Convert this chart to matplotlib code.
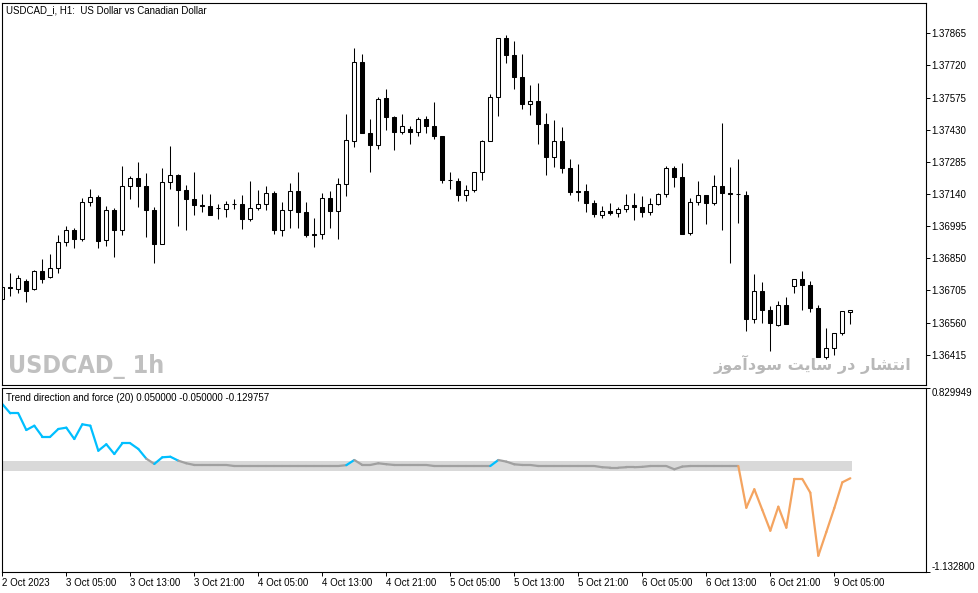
import matplotlib
matplotlib.use("Agg")
import matplotlib.pyplot as plt
from matplotlib.collections import LineCollection
import numpy as np

plt.rcParams['font.family'] = ['Liberation Sans', 'DejaVu Sans']

# ── Data (USDCAD_i H1, bars) ─────────────────────────────────────────
opens = [1.36666, 1.36720, 1.36711, 1.36747, 1.36711, 1.36792, 1.36765, 1.36806, 1.36923, 1.36977,
         1.36937, 1.37104, 1.37126, 1.36932, 1.37068, 1.36977, 1.37176, 1.37212, 1.37176, 1.37068,
         1.36914, 1.37194, 1.37226, 1.37158, 1.37117, 1.37090, 1.37086, 1.37077, 1.37072, 1.37095,
         1.37095, 1.37027, 1.37077, 1.37095, 1.37144, 1.36977, 1.37068, 1.37153, 1.37059, 1.36959,
         1.36959, 1.37122, 1.37063, 1.37185, 1.37379, 1.37736, 1.37415, 1.37361, 1.37573, 1.37487,
         1.37420, 1.37433, 1.37420, 1.37478, 1.37447, 1.37402, 1.37203, 1.37198, 1.37135, 1.37158,
         1.37239, 1.37379, 1.37578, 1.37844, 1.37767, 1.37668, 1.37546, 1.37560, 1.37456, 1.37307,
         1.37379, 1.37257, 1.37153, 1.37153, 1.37099, 1.37045, 1.37063, 1.37054, 1.37072, 1.37090,
         1.37081, 1.37059, 1.37095, 1.37140, 1.37257, 1.37217, 1.36964, 1.37104, 1.37135, 1.37099,
         1.37176, 1.37144, 1.37140, 1.37135, 1.36576, 1.36702, 1.36616, 1.36549, 1.36639, 1.36725,
         1.36756, 1.36729, 1.36625, 1.36404, 1.36445, 1.36513, 1.36607]
highs = [1.36720, 1.36783, 1.36774, 1.36756, 1.36797, 1.36846, 1.36869, 1.36955, 1.36995, 1.36986,
         1.37122, 1.37162, 1.37135, 1.37086, 1.37077, 1.37266, 1.37221, 1.37284, 1.37235, 1.37081,
         1.37257, 1.37356, 1.37230, 1.37180, 1.37239, 1.37140, 1.37140, 1.37095, 1.37108, 1.37117,
         1.37135, 1.37198, 1.37158, 1.37176, 1.37153, 1.37104, 1.37189, 1.37239, 1.37104, 1.37032,
         1.37144, 1.37153, 1.37212, 1.37501, 1.37799, 1.37772, 1.37478, 1.37578, 1.37614, 1.37492,
         1.37501, 1.37447, 1.37487, 1.37492, 1.37555, 1.37402, 1.37239, 1.37212, 1.37180, 1.37239,
         1.37384, 1.37591, 1.37844, 1.37857, 1.37830, 1.37772, 1.37632, 1.37641, 1.37505, 1.37474,
         1.37442, 1.37298, 1.37275, 1.37185, 1.37113, 1.37086, 1.37099, 1.37081, 1.37140, 1.37144,
         1.37131, 1.37122, 1.37144, 1.37266, 1.37266, 1.37280, 1.37122, 1.37198, 1.37135, 1.37226,
         1.37460, 1.37262, 1.37298, 1.37153, 1.36779, 1.36743, 1.36634, 1.36657, 1.36675, 1.36756,
         1.36792, 1.36747, 1.36639, 1.36535, 1.36513, 1.36612, 1.36616]
lows = [1.36657, 1.36680, 1.36693, 1.36652, 1.36707, 1.36738, 1.36761, 1.36783, 1.36905, 1.36896,
        1.36928, 1.37086, 1.36896, 1.36905, 1.36856, 1.36955, 1.37117, 1.37081, 1.36946, 1.36828,
        1.36914, 1.37162, 1.36995, 1.36977, 1.37045, 1.37059, 1.37045, 1.37027, 1.37036, 1.37072,
        1.36982, 1.37018, 1.37068, 1.37068, 1.36959, 1.36950, 1.36986, 1.36986, 1.36946, 1.36901,
        1.36937, 1.36986, 1.36937, 1.37131, 1.37352, 1.37415, 1.37239, 1.37343, 1.37429, 1.37338,
        1.37411, 1.37365, 1.37402, 1.37415, 1.37388, 1.37189, 1.37162, 1.37108, 1.37108, 1.37149,
        1.37203, 1.37379, 1.37492, 1.37731, 1.37614, 1.37523, 1.37496, 1.37365, 1.37226, 1.37262,
        1.37235, 1.37135, 1.37108, 1.37059, 1.37036, 1.37032, 1.37045, 1.37036, 1.37059, 1.37022,
        1.37036, 1.37045, 1.37090, 1.37126, 1.37171, 1.36959, 1.36955, 1.37090, 1.37004, 1.37090,
        1.36977, 1.36828, 1.37009, 1.36522, 1.36558, 1.36558, 1.36431, 1.36544, 1.36553, 1.36693,
        1.36616, 1.36607, 1.36404, 1.36395, 1.36413, 1.36503, 1.36553]
closes = [1.36720, 1.36716, 1.36761, 1.36702, 1.36792, 1.36756, 1.36806, 1.36923, 1.36977, 1.36937,
          1.37104, 1.37126, 1.36928, 1.37068, 1.36977, 1.37176, 1.37212, 1.37176, 1.37068, 1.36914,
          1.37194, 1.37226, 1.37158, 1.37117, 1.37090, 1.37086, 1.37045, 1.37075, 1.37095, 1.37093,
          1.37027, 1.37077, 1.37095, 1.37144, 1.36977, 1.37068, 1.37153, 1.37059, 1.36955, 1.36957,
          1.37122, 1.37063, 1.37185, 1.37384, 1.37736, 1.37415, 1.37361, 1.37569, 1.37487, 1.37420,
          1.37447, 1.37420, 1.37478, 1.37447, 1.37402, 1.37203, 1.37201, 1.37135, 1.37158, 1.37239,
          1.37379, 1.37578, 1.37844, 1.37767, 1.37668, 1.37546, 1.37560, 1.37456, 1.37307, 1.37379,
          1.37257, 1.37149, 1.37151, 1.37099, 1.37050, 1.37063, 1.37054, 1.37072, 1.37090, 1.37081,
          1.37059, 1.37095, 1.37140, 1.37257, 1.37217, 1.36959, 1.37104, 1.37135, 1.37099, 1.37176,
          1.37144, 1.37142, 1.37138, 1.36576, 1.36702, 1.36616, 1.36558, 1.36639, 1.36553, 1.36756,
          1.36729, 1.36625, 1.36404, 1.36445, 1.36513, 1.36612, 1.36616]

# Trend direction and force (20)
tdf = [0.662, 0.563, 0.563, 0.385, 0.431, 0.314, 0.314, 0.396, 0.410, 0.289,
       0.446, 0.431, 0.164, 0.233, 0.129, 0.243, 0.243, 0.183, 0.079, 0.023,
       0.094, 0.100, 0.058, 0.030, 0.012, 0.012, 0.012, 0.012, 0.012, 0.001,
       0.001, 0.001, 0.001, 0.001, 0.001, 0.001, 0.001, 0.001, 0.001, 0.001,
       0.001, 0.001, 0.001, 0.010, 0.065, 0.012, 0.012, 0.030, 0.020, 0.012,
       0.012, 0.012, 0.012, 0.012, 0.001, 0.001, 0.001, 0.001, 0.001, 0.001,
       0.001, 0.001, 0.065, 0.048, 0.019, 0.012, 0.012, 0.001, 0.001, 0.001,
       0.001, 0.001, 0.001, 0.001, 0.001, -0.012, -0.017, -0.017, -0.012, -0.012,
       -0.008, 0.001, 0.001, 0.001, -0.034, -0.005, 0.001, 0.001, 0.001, 0.001,
       0.001, 0.001, 0.001, -0.444, -0.247, -0.468, -0.689, -0.433, -0.657, -0.137,
       -0.137, -0.284, -0.956, -0.703, -0.447, -0.173, -0.129757]
level_up = 0.05
level_dn = -0.05
tdf_max = 0.829949
tdf_min = -1.132800

price_ticks = [1.36415, 1.36560, 1.36705, 1.36850, 1.36995, 1.37140,
               1.37285, 1.37430, 1.37575, 1.37720, 1.37865]
time_tick_bars = [0, 8, 16, 24, 32, 40, 48, 56, 64, 72, 80, 88, 96, 104]
time_tick_labels = ['2 Oct 2023', '3 Oct 05:00', '3 Oct 13:00', '3 Oct 21:00',
                    '4 Oct 05:00', '4 Oct 13:00', '4 Oct 21:00', '5 Oct 05:00',
                    '5 Oct 13:00', '5 Oct 21:00', '6 Oct 05:00', '6 Oct 13:00',
                    '6 Oct 21:00', '9 Oct 05:00']

# ── Figure layout (pixel based) ───────────────────────────────────────
W, H = 979, 593
fig = plt.figure(figsize=(W / 100, H / 100), dpi=100)


def px_axes(x0, y0, x1, y1):
    return fig.add_axes([x0 / W, 1 - y1 / H, (x1 - x0) / W, (y1 - y0) / H])


ax = px_axes(2, 2.5, 926, 385)
ax2 = px_axes(2, 388.3, 926, 572.3)

xs = np.arange(len(opens))
o = np.array(opens)
c = np.array(closes)
up = c >= o

# wicks
ax.vlines(xs, lows, highs, color='black', lw=0.75, zorder=1)
# bodies
body = np.where(np.abs(c - o) < 1e-6, 1e-6, c - o)
ax.bar(xs, body, bottom=o, width=0.5,
       color=np.where(up, 'white', 'black'), edgecolor='black', lw=0.75, zorder=2)

ax.set_xlim(-0.04, 115.46)
ax.set_ylim(1.36278, 1.38004)
ax.set_xticks([])
ax.yaxis.tick_right()
ax.set_yticks(price_ticks)
ax.set_yticklabels([f'{v:.5f}' for v in price_ticks])
ax.tick_params(axis='y', length=3, width=0.7, labelsize=7, pad=1)
for s in ax.spines.values():
    s.set_linewidth(0.8)

ax.text(0.004, 0.992, 'USDCAD_i, H1:  US Dollar vs Canadian Dollar',
        transform=ax.transAxes, fontsize=7, va='top', ha='left')
ax.text(0.007, 0.015, 'USDCAD_ 1h', transform=ax.transAxes, fontsize=18,
        fontweight='bold', fontstretch='condensed', color='#C0C0C0',
        va='bottom', ha='left', family=['DejaVu Sans'])
persian = ('\uFEAF\uFEEE\uFEE3\uFE81\uFEA9\uFEEE\uFEB3 \uFE96\uFBFE\uFE8E\uFEB3 '
           '\uFEAD\uFEA9 \uFEAD\uFE8E\uFEB8\uFE98\uFEE7\uFE8D')
ax.text(0.984, 0.03, persian, transform=ax.transAxes, fontsize=11.5,
        fontweight='bold', color='#B8B8B8', va='bottom', ha='right',
        family=['DejaVu Sans'])

# ── Indicator pane ────────────────────────────────────────────────────
v = np.array(tdf)
ax2.fill_between([xs[0] - 0.25, xs[-1] + 0.25], level_dn, level_up,
                 color='#D9D9D9', lw=0, zorder=1)
seg_colors = []
for val in v[1:]:
    if val > level_up:
        seg_colors.append('#00BFFF')
    elif val < level_dn:
        seg_colors.append('#F4A460')
    else:
        seg_colors.append('#A0A0A0')
pts = np.column_stack([xs, v])
segs = np.stack([pts[:-1], pts[1:]], axis=1)
ax2.add_collection(LineCollection(segs, colors=seg_colors, lw=1.6, zorder=2,
                                  capstyle='round', joinstyle='round'))

ax2.set_xlim(-0.04, 115.46)
ax2.set_ylim(tdf_min, tdf_max)
ax2.yaxis.tick_right()
ax2.set_yticks([tdf_max, tdf_min])
ax2.set_yticklabels([f'{tdf_max:.6f}', f'{tdf_min:.6f}'])
ax2.tick_params(axis='y', length=3, width=0.7, labelsize=7, pad=1)
ylabs = ax2.get_yticklabels()
ylabs[0].set_va('top')
ylabs[1].set_va('bottom')
ax2.set_xticks(time_tick_bars)
ax2.set_xticklabels(time_tick_labels)
ax2.tick_params(axis='x', length=3, width=0.7, labelsize=7, pad=1)
for lab in ax2.get_xticklabels():
    lab.set_ha('left')
for s in ax2.spines.values():
    s.set_linewidth(0.8)

ax2.text(0.004, 0.975,
         f'Trend direction and force (20) {level_up:.6f} {level_dn:.6f} {tdf[-1]:.6f}',
         transform=ax2.transAxes, fontsize=7, va='top', ha='left')

fig.savefig('out.png', dpi=100)
